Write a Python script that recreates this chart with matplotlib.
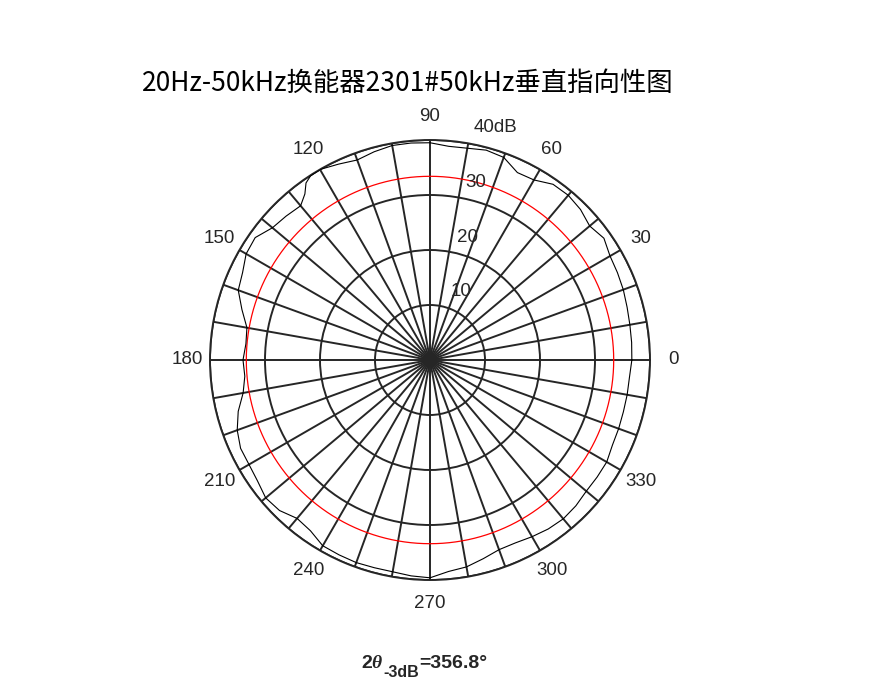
import numpy as np
import matplotlib
matplotlib.use('Agg')
import matplotlib.pyplot as plt

# measured directivity (dB) vs angle (deg)
angle_deg = [0, 5, 10, 15, 20, 25, 30, 35, 40, 45, 50, 55, 60, 65, 70, 75, 80, 85,
             90, 95, 100, 105, 110, 115, 120, 123, 125, 127, 130, 135, 140, 145, 150,
             155, 160, 165, 170, 175, 180, 185, 190, 195, 200, 205, 210, 215, 220,
             225, 230, 235, 240, 245, 250, 255, 260, 265, 270, 275, 280, 285, 290,
             295, 300, 305, 310, 315, 320, 325, 330, 335, 340, 345, 350, 355, 360]
level_db = [36.7, 36.8, 36.9, 37.1, 37.4, 37.6, 37.8, 38.6, 37.9, 38.7, 39.1, 39.0,
            37.8, 37.6, 39.2, 39.5, 39.1, 39.0, 39.5, 39.6, 39.6, 39.2, 38.7, 39.3,
            40.0, 39.9, 39.3, 37.8, 36.6, 37.0, 37.4, 38.8, 38.6, 37.6, 37.1, 35.4,
            33.8, 33.6, 34.0, 33.8, 34.5, 36.1, 37.3, 38.0, 38.0, 38.3, 39.0, 38.7,
            37.6, 37.9, 39.0, 39.1, 39.2, 39.1, 39.1, 39.4, 39.6, 38.6, 38.2, 37.4,
            36.7, 36.7, 37.1, 37.5, 37.7, 37.5, 37.1, 37.1, 37.1, 36.6, 36.5, 36.4,
            36.4, 36.4, 36.7]
minus3db_level = 33.4

ring_values = [10, 20, 30, 40]
ring_labels = ['10', '20', '30', '40dB']
angle_labels = ['0', '30', '60', '90', '120', '150', '180', '210', '240', '270', '300', '330']

title_text = '20Hz-50kHz换能器2301#50kHz垂直指向性图'
beam_sub = '-3dB'
beam_text = '=356.8°'
grid_col = '#262626'

fig = plt.figure(figsize=(8.83, 6.93), dpi=100)
ax = fig.add_axes([210/883, 113/693, 440/883, 440/693], projection='polar')

th = np.deg2rad(angle_deg)
ax.plot(th, level_db, color='black', lw=0.8, zorder=4)
circ = np.linspace(0, 2*np.pi, 361)
ax.plot(circ, np.full_like(circ, minus3db_level), color='red', lw=0.9, zorder=3)

ax.set_ylim(0, 40)
ax.set_yticks(ring_values)
ax.set_yticklabels([])
ax.set_xticks(np.deg2rad(np.arange(0, 360, 10)))
ax.set_xticklabels([])
ax.grid(True, color=grid_col, lw=1.4, ls='-')
ax.spines['polar'].set_color(grid_col)
ax.spines['polar'].set_linewidth(1.4)
ax.set_facecolor('white')

# angle labels outside
for i, lab in enumerate(angle_labels):
    ax.text(np.deg2rad(30*i), 44.2, lab, ha='center', va='center',
            fontsize=13.5, family='Liberation Sans', color='#262626')

# ring labels
ring_pos = [(65.8, 13.7), (73.1, 23.2), (75.5, 33.4), (74.2, 44.0)]
for lab, (a, r) in zip(ring_labels, ring_pos):
    ax.text(np.deg2rad(a), r, lab, ha='center', va='center',
            fontsize=13.5, family='Liberation Sans', color='#262626')

fig.text(407.5/883, 1 - 83/693, title_text, ha='center', va='center',
         fontsize=19, family=['Noto Sans CJK SC', 'DejaVu Sans'], color='black')

# beam width note: 2θ_-3dB=356.8°
plt.rcParams['mathtext.fontset'] = 'custom'
plt.rcParams['mathtext.rm'] = 'Liberation Sans'
plt.rcParams['mathtext.bf'] = 'Liberation Sans:bold'
plt.rcParams['mathtext.it'] = 'Liberation Serif:italic:bold'
fig.text(383.5/883, 1 - 668/693, r'$\mathbf{2}\mathit{\theta}$',
         ha='right', va='baseline', fontsize=14, color='#262626')
fig.text(383.5/883, 1 - 677/693, beam_sub, ha='left', va='baseline',
         fontsize=11.5, fontweight='bold', family='Liberation Sans', color='#262626')
fig.text(419/883, 1 - 668/693, beam_text, ha='left', va='baseline',
         fontsize=14, fontweight='bold', family='Liberation Sans', color='#262626')

fig.savefig('out.png', dpi=100, facecolor='white')
